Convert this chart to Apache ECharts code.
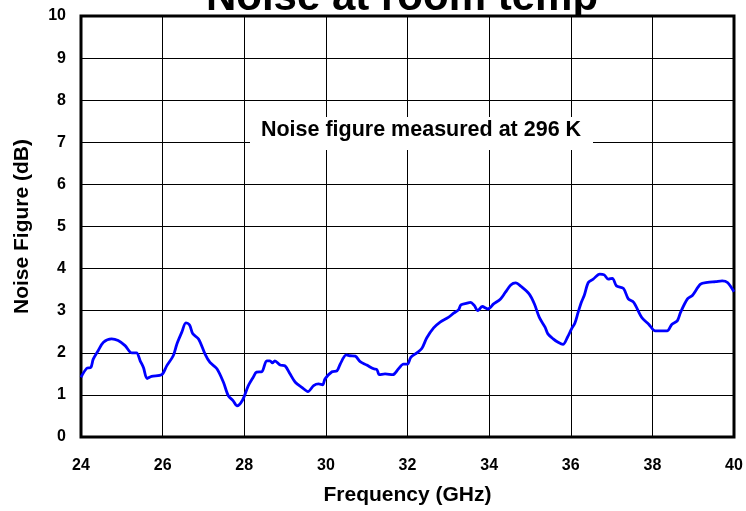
<!DOCTYPE html>
<html>
<head>
<meta charset="utf-8">
<script src="https://cdn.jsdelivr.net/npm/echarts@6/dist/echarts.min.js"></script>
<style>
html,body{margin:0;padding:0;background:#fff;}
#chart{width:746px;height:511px;}
</style>
</head>
<body>
<div id="chart"></div>
<script>
const chartTitle = 'Noise at room temp';
const annotationText = 'Noise figure measured at 296 K';
const xAxisName = 'Frequency (GHz)';
const yAxisName = 'Noise Figure (dB)';
const xTicks = [24, 26, 28, 30, 32, 34, 36, 38, 40];
const yTicks = [0, 1, 2, 3, 4, 5, 6, 7, 8, 9, 10];

const freqGHz = [
  24.00, 24.14, 24.24, 24.30, 24.42, 24.55, 24.75, 24.91, 25.08, 25.24,
  25.36, 25.45, 25.53, 25.62, 25.73, 25.98, 26.10, 26.26, 26.35, 26.47,
  26.57, 26.66, 26.74, 26.88, 27.04, 27.16, 27.33, 27.49, 27.61, 27.73,
  27.82, 27.96, 28.10, 28.22, 28.30, 28.43, 28.55, 28.63, 28.69, 28.75,
  28.88, 29.00, 29.12, 29.25, 29.41, 29.56, 29.70, 29.82, 29.92, 29.98,
  30.15, 30.27, 30.35, 30.50, 30.59, 30.72, 30.84, 31.00, 31.17, 31.25,
  31.31, 31.45, 31.64, 31.78, 31.90, 32.00, 32.08, 32.23, 32.35, 32.47,
  32.64, 32.80, 33.00, 33.13, 33.25, 33.31, 33.46, 33.54, 33.64, 33.72,
  33.83, 33.97, 34.11, 34.28, 34.40, 34.53, 34.65, 34.78, 34.98, 35.11,
  35.23, 35.37, 35.44, 35.57, 35.69, 35.81, 35.92, 36.02, 36.10, 36.18,
  36.26, 36.33, 36.43, 36.55, 36.71, 36.82, 36.92, 37.02, 37.12, 37.29,
  37.41, 37.54, 37.74, 37.91, 38.07, 38.24, 38.36, 38.48, 38.61, 38.69,
  38.86, 38.98, 39.18, 39.35, 39.55, 39.71, 39.84, 40.00
];
const noiseFigureDb = [
  1.42, 1.63, 1.65, 1.85, 2.05, 2.25, 2.33, 2.29, 2.17, 2.00,
  2.00, 1.81, 1.65, 1.39, 1.44, 1.48, 1.69, 1.93, 2.21, 2.49,
  2.71, 2.66, 2.45, 2.33, 1.97, 1.77, 1.62, 1.30, 0.98, 0.86,
  0.74, 0.88, 1.22, 1.42, 1.54, 1.55, 1.81, 1.81, 1.76, 1.81,
  1.71, 1.69, 1.50, 1.30, 1.18, 1.08, 1.22, 1.26, 1.24, 1.38,
  1.55, 1.57, 1.73, 1.95, 1.93, 1.92, 1.79, 1.71, 1.62, 1.60,
  1.48, 1.50, 1.48, 1.62, 1.73, 1.73, 1.89, 2.00, 2.10, 2.35,
  2.59, 2.73, 2.84, 2.94, 3.02, 3.14, 3.18, 3.20, 3.12, 3.00,
  3.10, 3.04, 3.16, 3.28, 3.44, 3.61, 3.66, 3.58, 3.40, 3.16,
  2.84, 2.61, 2.45, 2.33, 2.25, 2.20, 2.37, 2.57, 2.70, 2.96,
  3.20, 3.36, 3.67, 3.75, 3.87, 3.85, 3.75, 3.77, 3.59, 3.53,
  3.28, 3.20, 2.84, 2.68, 2.52, 2.52, 2.52, 2.68, 2.76, 2.96,
  3.28, 3.36, 3.63, 3.67, 3.69, 3.71, 3.67, 3.45
];

const FONT = 'Arial, "Liberation Sans", Helvetica, sans-serif';
const chart = echarts.init(document.getElementById('chart'), null, {renderer: 'canvas'});
const seriesData = freqGHz.map((f, i) => [f, noiseFigureDb[i]]);

chart.setOption({
  animation: false,
  backgroundColor: '#fff',
  grid: {
    left: 81, right: 12, top: 16, bottom: 73,
    show: true, backgroundColor: '#fff', borderColor: '#000', borderWidth: 3, z: 0
  },
  graphic: [
    {
      type: 'text', z: -10, x: 402, y: -23,
      style: { text: chartTitle, font: 'bold 42px ' + FONT, fill: '#000', align: 'center', verticalAlign: 'top' }
    },
    {
      type: 'rect', z: 100,
      shape: { x: 250, y: 117, width: 343, height: 33 },
      style: { fill: '#fff' }
    },
    {
      type: 'text', z: 101, x: 421, y: 130,
      style: { text: annotationText, font: 'bold 21.5px ' + FONT, fill: '#000', align: 'center', verticalAlign: 'middle' }
    }
  ],
  xAxis: {
    type: 'value', min: xTicks[0], max: xTicks[xTicks.length - 1], interval: 2,
    name: xAxisName, nameLocation: 'middle', nameGap: 48,
    nameTextStyle: { fontFamily: FONT, fontWeight: 'bold', fontSize: 21, color: '#000' },
    axisLine: { show: false }, axisTick: { show: false },
    axisLabel: { margin: 21, fontFamily: FONT, fontWeight: 'bold', fontSize: 16, color: '#000' },
    splitLine: { show: true, lineStyle: { color: '#000', width: 1 } },
    z: 2
  },
  yAxis: {
    type: 'value', min: yTicks[0], max: yTicks[yTicks.length - 1], interval: 1,
    name: yAxisName, nameLocation: 'middle', nameGap: 48,
    nameTextStyle: { fontFamily: FONT, fontWeight: 'bold', fontSize: 21, color: '#000' },
    axisLine: { show: false }, axisTick: { show: false },
    axisLabel: { margin: 15, fontFamily: FONT, fontWeight: 'bold', fontSize: 16, color: '#000' },
    splitLine: { show: true, lineStyle: { color: '#000', width: 1 } },
    z: 2
  },
  series: [{
    type: 'line', data: seriesData, showSymbol: false, smooth: 0.3,
    lineStyle: { color: '#0000ff', width: 2.8 }, z: 5
  }]
});
</script>
</body>
</html>
